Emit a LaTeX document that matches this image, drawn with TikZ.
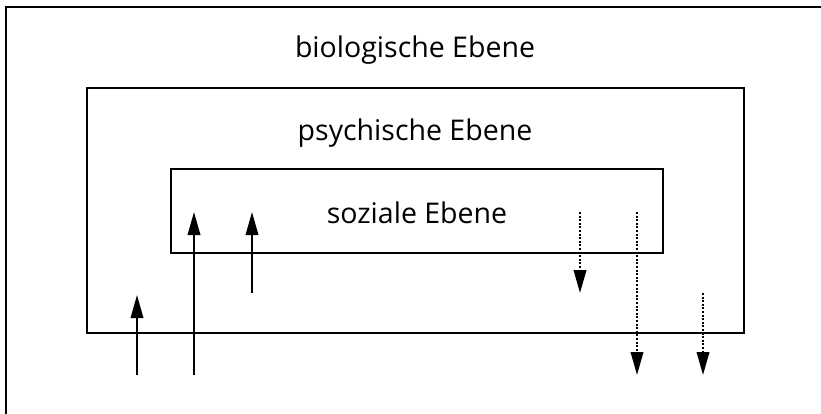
\documentclass[tikz,border=0pt]{standalone}
\usepackage{fontspec}
\setmainfont{Open Sans}
\usetikzlibrary{arrows.meta}

\tikzset{
    ebene/.style={draw, line width=2.4pt, inner sep=0pt},
    label/.style={anchor=base, font=\fontsize{28.5}{30}\selectfont},
    hoch/.style={line width=2pt, -{Triangle[length=23pt, width=12.5pt]}},
    runter/.style={line width=2pt, dash pattern=on 2pt off 1.6pt, -{Triangle[length=23pt, width=12.5pt]}}
}

\begin{document}
\begin{tikzpicture}[x=1pt, y=-1pt]
    \useasboundingbox (0,0) rectangle (821,413);
    \def\ya{375}
    \def\yb{293}
    \def\yc{212}

    % Draw the outer frame, cut off at the right and at the bottom
    \begin{scope}
        \clip (0,0) rectangle (821,413);
        \draw[line width=2.4pt] (6,430) -- (6,7) -- (840,7);
    \end{scope}

    % Draw the two inner boxes
    \node[ebene, minimum width=657pt, minimum height=245pt] (psych) at (415.5,210.5) {};
    \node[ebene, minimum width=492pt, minimum height=84pt] (sozial) at (417,211) {};

    % Labels of the levels
    \node[label] (tbio) at (415,57) {biologische Ebene};
    \node[label] (tpsych) at (415,140) {psychische Ebene};
    \node[label] (tsozial) at (417,223) {soziale Ebene};

    % Ends of the arrows
    \coordinate (h1a) at (137,\ya);  \coordinate (h1b) at (137,295);
    \coordinate (h2a) at (194,\ya);  \coordinate (h2b) at (194,\yc);
    \coordinate (h3a) at (252,\yb);  \coordinate (h3b) at (252,\yc);
    \coordinate (r1a) at (580,\yc);  \coordinate (r1b) at (580,\yb);
    \coordinate (r2a) at (637,\yc);  \coordinate (r2b) at (637,\ya);
    \coordinate (r3a) at (703,\yb);  \coordinate (r3b) at (703,\ya);

    % Solid arrows upwards, dotted arrows downwards
    \draw[hoch] (h1a) -- (h1b);
    \draw[hoch] (h2a) -- (h2b);
    \draw[hoch] (h3a) -- (h3b);
    \draw[runter] (r1a) -- (r1b);
    \draw[runter] (r2a) -- (r2b);
    \draw[runter] (r3a) -- (r3b);
\end{tikzpicture}
\end{document}
